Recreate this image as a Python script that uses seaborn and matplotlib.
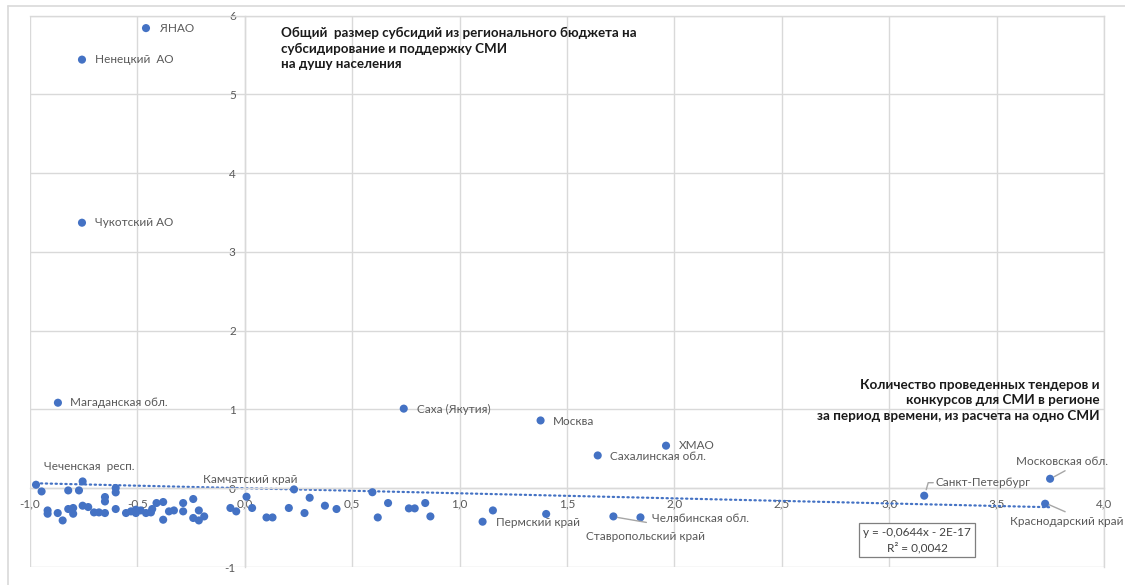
import matplotlib
matplotlib.use("Agg")
import matplotlib.pyplot as plt
import seaborn as sns
import pandas as pd
import numpy as np

# Standardised indicators per region
# x: tenders/contests for the media per outlet, y: regional media subsidies per capita
labeled_regions = [
    "ЯНАО", "Ненецкий  АО", "Чукотский АО", "Магаданская обл.", "Саха (Якутия)",
    "Москва", "ХМАО", "Сахалинская обл.", "Санкт-Петербург", "Московская обл.",
    "Краснодарский край", "Челябинская обл.", "Ставропольский край", "Пермский край",
    "Чеченская  респ.", "Камчатский край",
]
labeled_x = [-0.460, -0.758, -0.758, -0.870, 0.740, 1.377, 1.961, 1.643, 3.163, 3.749,
             3.726, 1.842, 1.716, 1.107, -0.755, 0.008]
labeled_y = [5.84, 5.44, 3.37, 1.085, 1.01, 0.86, 0.54, 0.416, -0.095, 0.12,
             -0.197, -0.37, -0.358, -0.425, 0.086, -0.108]

other_x = [-0.972, -0.946, -0.918, -0.918, -0.871, -0.848, -0.822, -0.822, -0.799, -0.799,
           -0.772, -0.755, -0.729, -0.702, -0.679, -0.651, -0.651, -0.651, -0.601, -0.601,
           -0.601, -0.553, -0.530, -0.507, -0.507, -0.485, -0.460, -0.437, -0.431, -0.411,
           -0.380, -0.380, -0.353, -0.330, -0.287, -0.287, -0.240, -0.240, -0.214, -0.214,
           -0.189, -0.067, -0.040, 0.034, 0.101, 0.129, 0.205, 0.229, 0.278, 0.302,
           0.373, 0.427, 0.594, 0.619, 0.667, 0.764, 0.791, 0.840, 0.864, 1.155, 1.403]
other_y = [0.044, -0.041, -0.282, -0.324, -0.315, -0.409, -0.028, -0.264, -0.251, -0.324,
           -0.028, -0.222, -0.239, -0.307, -0.307, -0.112, -0.168, -0.315, 0.003, -0.053,
           -0.264, -0.315, -0.294, -0.315, -0.273, -0.282, -0.315, -0.307, -0.264, -0.188,
           -0.175, -0.400, -0.294, -0.282, -0.188, -0.294, -0.137, -0.378, -0.282, -0.409,
           -0.358, -0.251, -0.294, -0.251, -0.371, -0.371, -0.251, -0.015, -0.315, -0.121,
           -0.222, -0.264, -0.051, -0.371, -0.188, -0.256, -0.256, -0.188, -0.358, -0.282, -0.327]

# Linear trend reported for the scatter
TREND_SLOPE = -0.0644
TREND_INTERCEPT = -2e-17
TREND_R2 = 0.0042

x_ticks = [-1.0, -0.5, 0.0, 0.5, 1.0, 1.5, 2.0, 2.5, 3.0, 3.5, 4.0]
y_ticks = [-1, 0, 1, 2, 3, 4, 5, 6]

y_title = "Общий  размер субсидий из регионального бюджета на\nсубсидирование и поддержку СМИ\nна душу населения"
x_title = "Количество проведенных тендеров и\nконкурсов для СМИ в регионе\nза период времени, из расчета на одно СМИ"

df = pd.DataFrame({
    "tenders": labeled_x + other_x,
    "subsidy": labeled_y + other_y,
})

sns.set_theme(style="white")
plt.rcParams["font.family"] = ["Lato", "DejaVu Sans"]

W, H = 1125, 585
fig = plt.figure(figsize=(W / 100, H / 100), dpi=100)
fig.patch.set_facecolor("white")

# outer chart border
border = "#D9D9D9"
fig.add_artist(plt.Line2D([8 / W, 8 / W], [0, 1 - 6 / H], color=border, lw=1.2))
fig.add_artist(plt.Line2D([8 / W, 1], [1 - 6 / H, 1 - 6 / H], color=border, lw=1.2))

ax = fig.add_axes([30 / W, 1 - 567 / H, (1104 - 30) / W, (567 - 15.5) / H])
ax.set_facecolor("white")

blue = "#4472C4"
grey_txt = "#595959"
leader_col = "#A6A6A6"

# trend line across the data range
xs = np.array([df["tenders"].min(), df["tenders"].max()])
ax.plot(xs, TREND_SLOPE * xs + TREND_INTERCEPT, color=blue, lw=1.6,
        linestyle=(0, (0.6, 1.6)), dash_capstyle="round", zorder=2)

sns.scatterplot(data=df, x="tenders", y="subsidy", ax=ax, color=blue, s=34,
                edgecolor="none", linewidth=0, zorder=3)

ax.set_xlim(-1, 4)
ax.set_ylim(-1, 6)
ax.set_xticks(x_ticks)
ax.set_xticklabels([f"{v:.1f}".replace(".", ",") for v in x_ticks])
ax.set_yticks(y_ticks)
ax.set_yticklabels([str(v) for v in y_ticks])
ax.set_xlabel("")
ax.set_ylabel("")
ax.grid(True, color=border, lw=1.0, zorder=0)
ax.set_axisbelow(True)
for side in ["top", "right"]:
    ax.spines[side].set_color(border)
    ax.spines[side].set_linewidth(1.0)
ax.spines["left"].set_position(("data", 0))
ax.spines["bottom"].set_position(("data", 0))
for side in ["left", "bottom"]:
    ax.spines[side].set_color(border)
    ax.spines[side].set_linewidth(1.0)
ax.tick_params(axis="both", length=0, colors=grey_txt, labelsize=8.5)
ax.tick_params(axis="x", pad=7.5)
ax.tick_params(axis="y", pad=6.5)

# point labels: (dx, dy) offset in pixels, alignment, leader-line path in pixels
label_style = {
    "ЯНАО": (14, 0, "left", None),
    "Ненецкий  АО": (13, 0, "left", None),
    "Чукотский АО": (13, 0, "left", None),
    "Магаданская обл.": (12, 0, "left", None),
    "Саха (Якутия)": (13, -1, "left", None),
    "Москва": (12, -1, "left", None),
    "ХМАО": (13, 0, "left", None),
    "Сахалинская обл.": (12, -1, "left", None),
    "Пермский край": (13, -1, "left", None),
    "Челябинская обл.": (12, -1, "left", None),
    "Ставропольский край": (32, -20, "center", [(4, -1), (33, -6)]),
    "Чеченская  респ.": (7, 15, "center", None),
    "Камчатский край": (4, 17, "center", None),
    "Санкт-Петербург": (11, 13, "left", [(2, 6), (4, 13), (9, 13)]),
    "Московская обл.": (12, 17, "center", [(4, 2), (15, 8)]),
    "Краснодарский край": (22, -18, "center", [(4, -1), (20, -8)]),
}
for name, px, py in zip(labeled_regions, labeled_x, labeled_y):
    dx, dy, ha, lead = label_style[name]
    ax.annotate(name, (px, py), xytext=(dx, dy), textcoords="offset pixels",
                ha=ha, va="center", fontsize=8.5, color=grey_txt, zorder=4)
    if lead is not None:
        xpix, ypix = ax.transData.transform((px, py))
        fig.add_artist(plt.Line2D([(xpix + lx) / W for lx, _ in lead],
                                  [(ypix + ly) / H for _, ly in lead],
                                  color=leader_col, lw=1.0))

# regression equation box
eq = f"y = {TREND_SLOPE:.4f}x - 2E-17\nR² = {TREND_R2:.4f}".replace(".", ",")
ax.text(917, H - 540, eq, transform=None, ha="center", va="center", fontsize=8.5,
        color="#404040", linespacing=1.35, zorder=5,
        bbox=dict(boxstyle="square,pad=0.35", fc="white", ec="#7F7F7F", lw=0.9))

# axis titles
fig.text(281 / W, 1 - 27 / H, y_title, ha="left", va="top", fontsize=9.6,
         fontweight="bold", color="#1a1a1a", linespacing=1.35)
fig.text(1100 / W, 1 - 379 / H, x_title, ha="right", va="top", fontsize=9.7,
         fontweight="bold", color="#1a1a1a", linespacing=1.35, multialignment="right")

fig.savefig("out.png", dpi=100)
